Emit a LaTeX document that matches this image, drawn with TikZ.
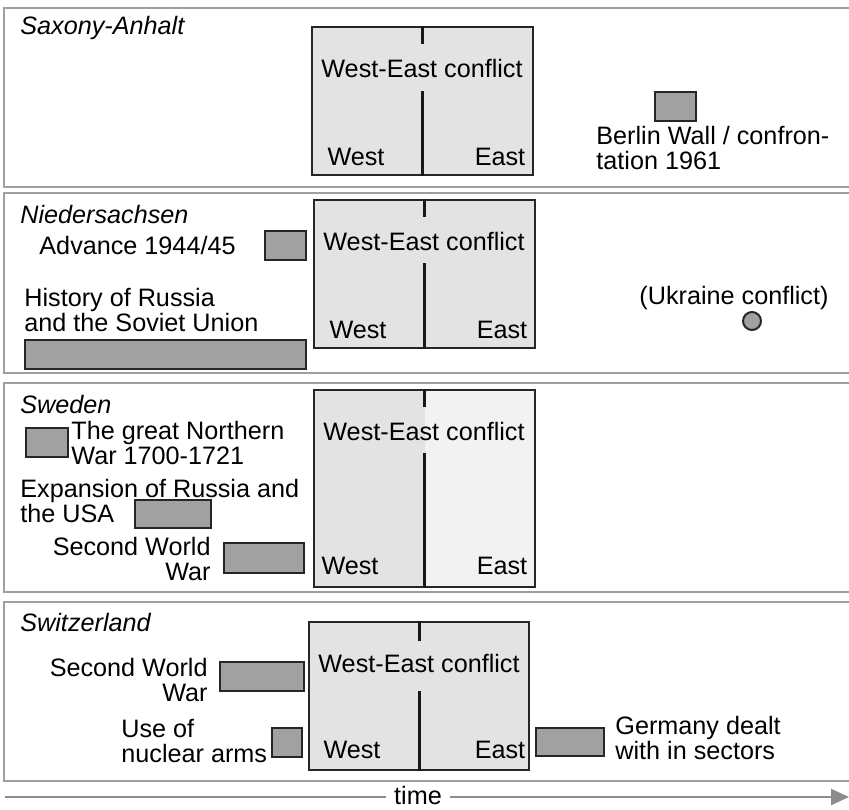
\documentclass[tikz,border=0pt]{standalone}
\usepackage{fontspec}
\setmainfont{Liberation Sans}
\usetikzlibrary{arrows.meta,positioning}

\begin{document}
\begin{tikzpicture}[
        x=0.5pt, y=-0.5pt,                 % 1 unit = 1 pixel of the figure
        every node/.style={
            font=\fontsize{12.6}{12.5}\selectfont,
            inner sep=0pt
        },
        panel/.style={draw=gray!75, line width=0.8pt},
        webox/.style={draw=black!85, fill=gray!22, line width=0.8pt,
            minimum width=110.5pt, minimum height=74pt},
        wall/.style={black!90, line width=1.5pt},
        item/.style={draw=black!85, fill=gray!74, line width=1pt,
            minimum width=20.5pt, minimum height=14.5pt},
        land/.style={anchor=west, font=\fontsize{12.6}{12.5}\selectfont\itshape},
        txt/.style={align=left}
    ]
    \useasboundingbox (0,0) rectangle (849,809);

    % Rahmen
    \draw[panel] (4,8) rectangle (860,187);
    \draw[panel] (4,193) rectangle (860,373);
    \draw[panel] (4,383) rectangle (860,592);
    \draw[panel] (4,602) rectangle (860,781);

    % Saxony-Anhalt
    \node[land] (sa) at (20,28) {Saxony-Anhalt};
    \node[webox] (we1) at (422.5,101) {};
    \draw[wall] (we1.north) -- ++(0,18);
    \draw[wall] (we1.south) -- ++(0,-85);
    \node (we1t) at (422,68) {West-East conflict};
    \node (we1w) at (356,157) {West};
    \node (we1e) at (500,157) {East};
    \node[item] (berlin) at (675.5,106.5) {};
    \node[txt, anchor=west] (berlint) at (596,148) {Berlin Wall / confron-\\tation 1961};

    % Niedersachsen
    \node[land] (ns) at (20,214) {Niedersachsen};
    \node[webox] (we2) at (424.5,274) {};
    \draw[wall] (we2.north) -- ++(0,18);
    \draw[wall] (we2.south) -- ++(0,-86);
    \node (we2t) at (424,241) {West-East conflict};
    \node (we2w) at (358,330) {West};
    \node (we2e) at (502,330) {East};
    \node[item] (adv) at (285.5,245) {};
    \node[anchor=east] (advt) [left=14pt of adv] {Advance 1944/45};
    \node[item, minimum width=140.5pt] (hist) at (165.5,354.5) {};
    \node[txt, anchor=west] (histt) at (24,310) {History of Russia\\and the Soviet Union};
    \node[circle, draw=black!85, fill=gray!74, line width=1pt, minimum size=9pt] (ukr) at (752,321) {};
    \node (ukrt) at (734,298) {(Ukraine conflict)};

    % Sweden
    \node[land] (sw) at (20,404) {Sweden};
    \node[webox, fill=gray!10, minimum height=98.5pt,
        path picture={\fill[gray!22] (path picture bounding box.north west)
            rectangle (path picture bounding box.south);}] (we3) at (424.5,488.5) {};
    \draw[wall] (we3.north) -- ++(0,18);
    \draw[wall] (we3.south) -- ++(0,-135);
    \node (we3t) at (424,431) {West-East conflict};
    \node (we3w) at (350,566) {West};
    \node (we3e) at (502,566) {East};
    \node[item, minimum width=21pt] (nord) at (47,442.5) {};
    \node[txt, anchor=west] (nordt) at (71,443) {The great Northern\\War 1700-1721};
    \node[item, minimum width=38pt, minimum height=14pt] (exp) at (173,514) {};
    \node[txt, anchor=west] (expt) at (20,501) {Expansion of Russia and\\the USA};
    \node[item, minimum width=40pt, minimum height=15pt] (ww1) at (264,558) {};
    \node[align=right, anchor=east] (ww1t) at (211,559) {Second World\\War};

    % Switzerland
    \node[land] (ch) at (20,622) {Switzerland};
    \node[webox, minimum width=110pt] (we4) at (419,696) {};
    \draw[wall] (we4.north) -- ++(0,20);
    \draw[wall] (we4.south) -- ++(0,-80);
    \node (we4t) at (419,663) {West-East conflict};
    \node (we4w) at (352,750) {West};
    \node (we4e) at (500,750) {East};
    \node[item, minimum width=42pt] (ww2) at (262,676.5) {};
    \node[align=right, anchor=east] (ww2t) at (208,680) {Second World\\War};
    \node[item, minimum width=15pt] (nuc) at (287,742.5) {};
    \node[txt, anchor=west] (nuct) at (121,741) {Use of\\nuclear arms};
    \node[item, minimum width=34pt, minimum height=14pt] (ger) at (570,742) {};
    \node[txt, anchor=west] (gert) at (615,738) {Germany dealt\\with in sectors};

    % Zeitachse
    \coordinate (t0) at (5,797);
    \coordinate (t1) at (849,797);
    \draw[gray!90, line width=1.1pt, -{Triangle[length=9pt,width=8pt]}] (t0) -- (t1);
    \node[fill=white, inner xsep=4pt] (time) at (418,795) {time};
\end{tikzpicture}
\end{document}
